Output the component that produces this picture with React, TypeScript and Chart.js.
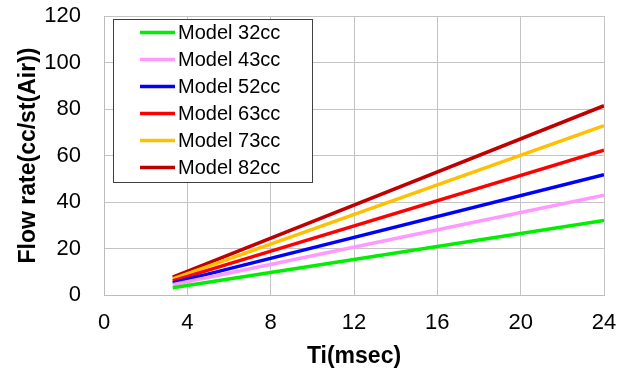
import React, { useEffect, useRef } from "react";
import { Chart, registerables } from "chart.js";

Chart.register(...registerables);

// Ti (msec) sample positions
const tiValues = [3.3, 24];
// Flow rate (cc/st(Air)) per model
const model32 = [3.1, 32.0];
const model43 = [4.4, 42.9];
const model52 = [5.2, 51.7];
const model63 = [6.1, 62.3];
const model73 = [6.9, 72.8];
const model82 = [7.7, 81.4];

const seriesLabels = ["Model 32cc", "Model 43cc", "Model 52cc", "Model 63cc", "Model 73cc", "Model 82cc"];
const seriesValues = [model32, model43, model52, model63, model73, model82];
const seriesColors = ["#00ee00", "#ff99ff", "#0000ff", "#ff0000", "#ffc000", "#c00000"];

const xTitle = "Ti(msec)";
const yTitle = "Flow rate(cc/st(Air))";

const FONT = "'Liberation Sans', Arial, sans-serif";

const insideLegend = {
  id: "insideLegend",
  afterDraw(chart: any) {
    const ctx = chart.ctx;
    const area = chart.chartArea;
    const left = area.left + 9;
    const top = area.top + 3;
    const w = 199;
    const h = 163;
    ctx.save();
    ctx.fillStyle = "#ffffff";
    ctx.fillRect(left, top, w, h);
    ctx.strokeStyle = "#404040";
    ctx.lineWidth = 1;
    ctx.strokeRect(left + 0.5, top + 0.5, w, h);
    ctx.font = `20px ${FONT}`;
    ctx.textBaseline = "middle";
    ctx.textAlign = "left";
    chart.data.datasets.forEach((ds: any, i: number) => {
      const y = top + 13.5 + i * 27;
      ctx.strokeStyle = ds.borderColor;
      ctx.lineWidth = 3.5;
      ctx.beginPath();
      ctx.moveTo(left + 27, y);
      ctx.lineTo(left + 62, y);
      ctx.stroke();
      ctx.fillStyle = "#000000";
      ctx.fillText(ds.label, left + 65, y + 1);
    });
    ctx.restore();
  },
};

export default function App() {
  const canvasRef = useRef<HTMLCanvasElement | null>(null);

  useEffect(() => {
    document.body.style.margin = "0";
    const canvas = canvasRef.current;
    if (!canvas) return;
    const datasets = seriesLabels.map((label, i) => ({
      label,
      data: tiValues.map((x, j) => ({ x, y: seriesValues[i][j] })),
      borderColor: seriesColors[i],
      backgroundColor: seriesColors[i],
      borderWidth: 3.5,
      pointRadius: 0,
      fill: false,
      tension: 0,
    }));
    const chart = new Chart(canvas, {
      type: "line",
      data: { datasets },
      plugins: [insideLegend],
      options: {
        animation: false,
        responsive: false,
        maintainAspectRatio: false,
        layout: { padding: { top: 16, right: 17, left: 0, bottom: 0 } },
        plugins: {
          legend: { display: false },
          tooltip: { enabled: false },
        },
        scales: {
          x: {
            type: "linear",
            min: 0,
            max: 24,
            ticks: {
              stepSize: 4,
              color: "#000000",
              font: { family: FONT, size: 22, lineHeight: 1 },
              padding: 17,
              maxRotation: 0,
            },
            grid: { color: "#c4c4c4", lineWidth: 1, drawTicks: false, tickLength: 0 },
            border: { color: "#bcbcbc", width: 1 },
            title: {
              display: true,
              text: xTitle,
              color: "#000000",
              font: { family: FONT, size: 23, weight: "bold", lineHeight: 1 },
              padding: { top: 0, bottom: 1 },
            },
            afterFit(scale: any) {
              scale.height = 74;
              scale.paddingLeft = 0;
              scale.paddingRight = 0;
            },
          },
          y: {
            type: "linear",
            min: 0,
            max: 120,
            ticks: {
              stepSize: 20,
              color: "#000000",
              font: { family: FONT, size: 22, lineHeight: 1 },
              padding: 23,
            },
            grid: { color: "#c4c4c4", lineWidth: 1, drawTicks: false, tickLength: 0 },
            border: { color: "#bcbcbc", width: 1 },
            title: {
              display: true,
              text: yTitle,
              color: "#000000",
              font: { family: FONT, size: 23, weight: "bold", lineHeight: 1 },
              padding: { top: 17, bottom: 0 },
            },
            afterFit(scale: any) {
              scale.width = 104;
              scale.paddingTop = 0;
              scale.paddingBottom = 0;
            },
          },
        },
      },
    });
    return () => chart.destroy();
  }, []);

  return (
    <div style={{ width: 621, height: 369 }}>
      <canvas ref={canvasRef} width={621} height={369} style={{ display: "block" }} />
    </div>
  );
}
